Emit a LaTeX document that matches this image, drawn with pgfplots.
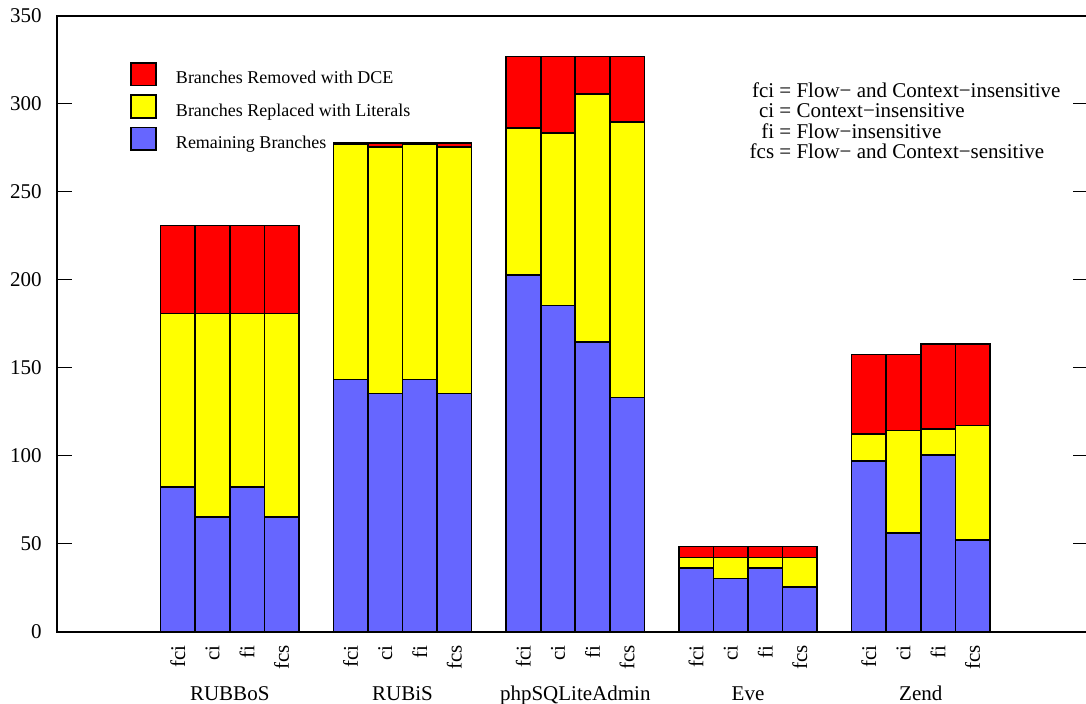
\documentclass[border=0pt]{standalone}
\usepackage{fontspec}
\setmainfont{Liberation Serif}
\usepackage{pgfplots}
\usepackage{pgfplotstable}
\pgfplotsset{compat=1.18}
\definecolor{dcered}{HTML}{FF0000}
\definecolor{lityellow}{HTML}{FFFF00}
\definecolor{remblue}{HTML}{6666FF}

% x = bar centre; remaining, replaced with literals, removed with DCE
\pgfplotstableread{
x     remaining literals dce
3.5   82.5   98.5   50
4.5   65.5   115.5  50
5.5   82.5   98.5   50
6.5   65.5   115.5  50
8.5   143.5  133.5  1
9.5   135.5  140    2.5
10.5  143.5  133.5  1
11.5  135.5  140    2.5
13.5  202.7  83.8   40.5
14.5  185.6  97.9   43.5
15.5  164.6  141.1  21.3
16.5  133.3  156.5  37.2
18.5  36.4   6      6.1
19.5  30.5   11.9   6.1
20.5  36.4   6      6.1
21.5  25.4   17     6.1
23.5  97.3   15.2   45.1
24.5  56.4   58     43.2
25.5  100.4  14.9   48.2
26.5  52.3   65.1   46.1
}\branches

\begin{document}
\begin{tikzpicture}
\useasboundingbox (-28.5pt,-36pt) rectangle (514.5pt,316pt);
\begin{axis}[
  scale only axis, width=515.5pt, height=308pt,
  at={(0,0)}, anchor=south west,
  xmin=0, xmax=29.84, ymin=0, ymax=350,
  ybar stacked, bar width=1,
  clip=false,
  axis line style={line width=1pt, black},
  ytick={0,50,...,350},
  ytick pos=both,
  tick align=inside,
  major tick length=7.5pt,
  ytick style={line width=0.5pt, black},
  xtick={3.5,4.5,5.5,6.5,8.5,9.5,10.5,11.5,13.5,14.5,15.5,16.5,18.5,19.5,20.5,21.5,23.5,24.5,25.5,26.5},
  xticklabels={fci,ci,fi,fcs,fci,ci,fi,fcs,fci,ci,fi,fcs,fci,ci,fi,fcs,fci,ci,fi,fcs},
  xtick style={draw=none},
  /pgf/number format/assume math mode=true,
  yticklabel style={font=\fontsize{10.5pt}{12pt}\selectfont, inner sep=0pt, xshift=-7.5pt},
  xticklabel style={font=\fontsize{10.5pt}{12pt}\selectfont, rotate=90, anchor=east, inner sep=0pt},
  xticklabel shift=6.5pt,
  every axis plot/.append style={draw=black, line width=0.8pt},
  reverse legend,
  legend image code/.code={\draw[#1, line width=0.8pt] (0pt,-0.85pt) rectangle (12.5pt,10.45pt);},
  legend style={draw=none, fill=none, at={(0.0708,0.9258)}, anchor=north west,
    inner sep=0pt, row sep=3.8pt, column sep=9.5pt,
    font=\fontsize{9pt}{10pt}\selectfont,
    nodes={inner sep=0pt, anchor=base west}},
]
\addplot[fill=remblue] table[x=x, y=remaining] {\branches};
\addlegendentry{Remaining Branches}
\addplot[fill=lityellow] table[x=x, y=literals] {\branches};
\addlegendentry{Branches Replaced with Literals}
\addplot[fill=dcered] table[x=x, y=dce] {\branches};
\addlegendentry{Branches Removed with DCE}

\node[anchor=base, yshift=-34.5pt, font=\fontsize{10.5pt}{12pt}\selectfont] at (axis cs:5,0) {RUBBoS};
\node[anchor=base, yshift=-34.5pt, font=\fontsize{10.5pt}{12pt}\selectfont] at (axis cs:10,0) {RUBiS};
\node[anchor=base, yshift=-34.5pt, font=\fontsize{10.5pt}{12pt}\selectfont] at (axis cs:15,0) {phpSQLiteAdmin};
\node[anchor=base, yshift=-34.5pt, font=\fontsize{10.5pt}{12pt}\selectfont] at (axis cs:20,0) {Eve};
\node[anchor=base, yshift=-34.5pt, font=\fontsize{10.5pt}{12pt}\selectfont] at (axis cs:25,0) {Zend};

\node[anchor=base west, inner sep=0pt, font=\fontsize{10.5pt}{9.65pt}\selectfont] at (rel axis cs:0.6715,0.8669)
  {\begin{tabular}[t]{@{}r@{\ =\ }l@{}}
   fci & Flow− and Context−insensitive\\
   ci & Context−insensitive\\
   fi & Flow−insensitive\\
   fcs & Flow− and Context−sensitive
   \end{tabular}};
\end{axis}
\end{tikzpicture}
\end{document}
